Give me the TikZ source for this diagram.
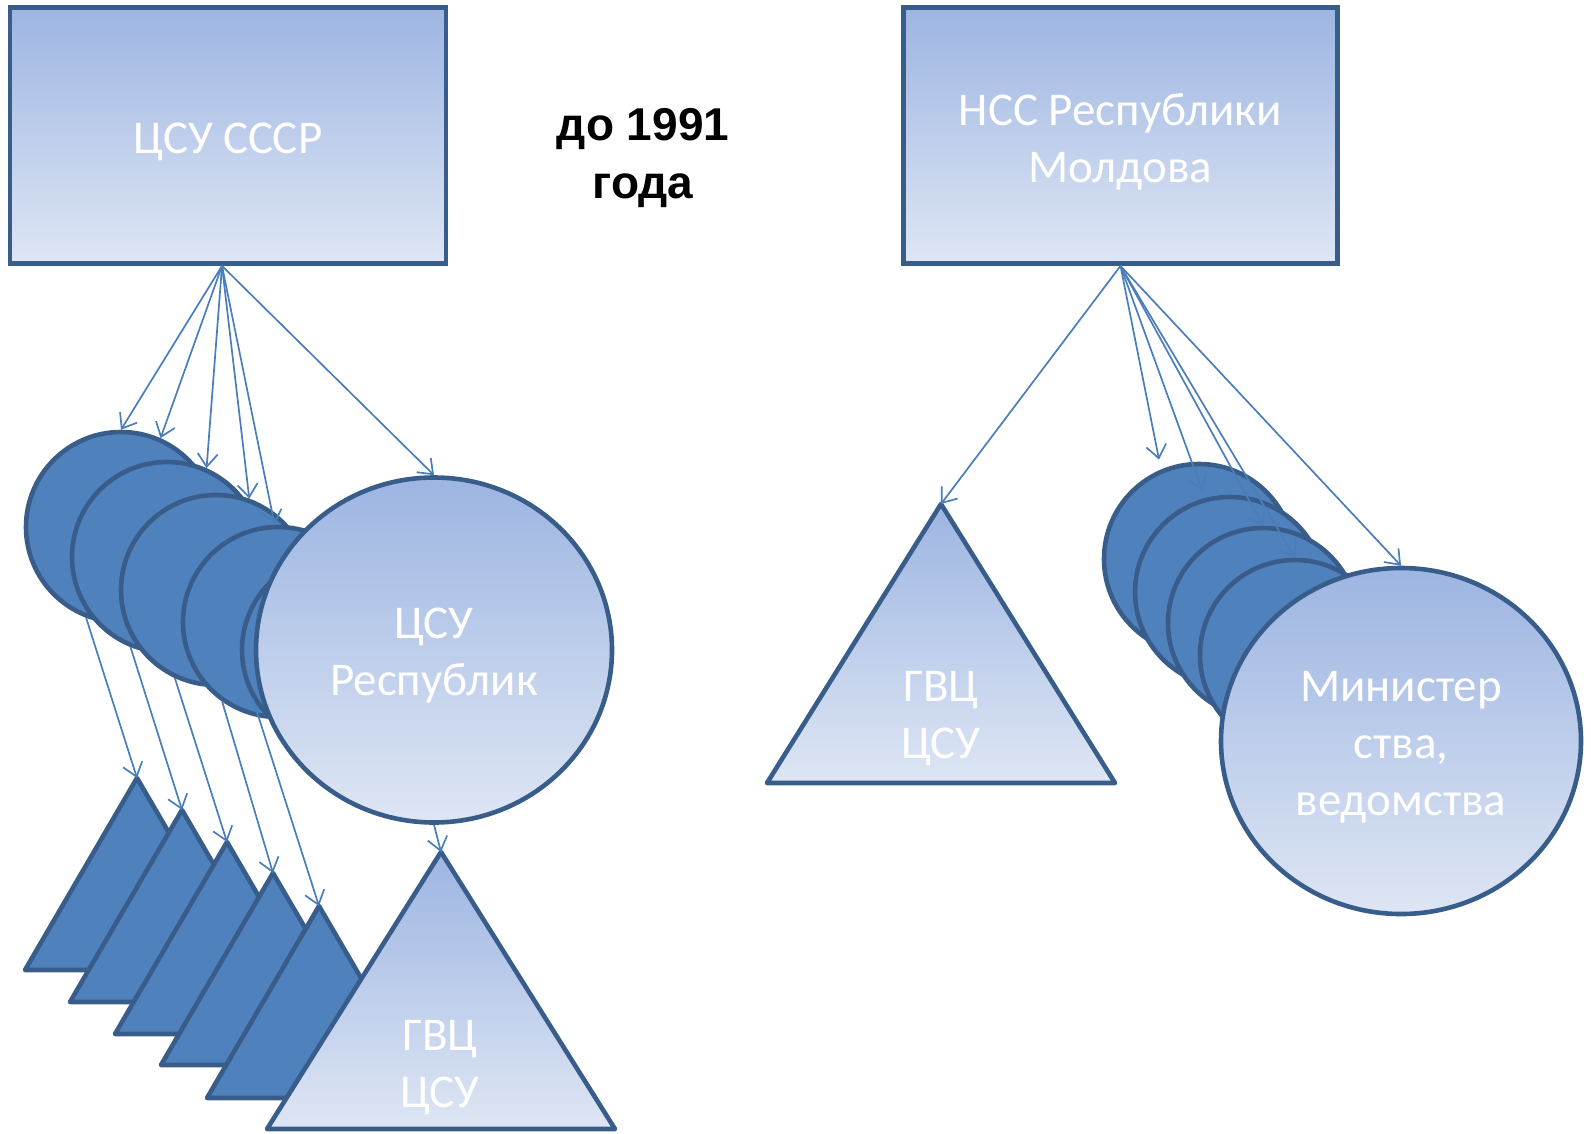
\documentclass[tikz,border=0pt]{standalone}
\usepackage{fontspec}
\setmainfont{Carlito}
\newfontfamily\headfont{Liberation Sans}
\usetikzlibrary{shapes.geometric,arrows.meta}
\definecolor{edgeblue}{HTML}{385D8A}
\definecolor{darkblue}{HTML}{4F81BD}
\definecolor{linkblue}{HTML}{4A7EBB}
\definecolor{gradtop}{HTML}{9DB5E2}
\definecolor{gradbot}{HTML}{DEE6F4}
\tikzset{
    box/.style={rectangle,draw=edgeblue,line width=4.8pt,top color=gradtop,bottom color=gradbot,
        minimum width=436pt,minimum height=256pt},
    disc/.style={circle,draw=edgeblue,line width=4.6pt,fill=darkblue,minimum size=190pt,inner sep=0},
    bigdisc/.style={ellipse,draw=edgeblue,line width=4.6pt,top color=gradtop,bottom color=gradbot,inner sep=0},
    darktri/.style={draw=edgeblue,line width=4.6pt,fill=darkblue,line join=round},
    lighttri/.style={draw=edgeblue,line width=4.6pt,top color=gradtop,bottom color=gradbot,line join=round},
    lbl/.style={text=white,font=\fontsize{47}{57}\selectfont,align=center},
    txt/.style={label={[lbl,yshift=-6pt]center:#1}},
    link/.style={draw=linkblue,line width=1.7pt,-{Straight Barb[length=13pt,width=20pt]}}
}

\begin{document}
\begin{tikzpicture}[x=1pt,y=-1pt]
    \useasboundingbox (0,0) rectangle (1591,1133);

    % before 1991
    \node[box,txt={ЦСУ СССР}] (ussr) at (228,135.5) {};
    \node[font=\headfont\bfseries\fontsize{46}{58}\selectfont,align=center] (year) at (643,158) {до 1991\\года};

    \node[disc] (cA) at (121,527) {};
    \node[disc] (cB) at (167,557) {};
    \node[disc] (cC) at (216,590) {};
    \node[disc] (cD) at (278,622) {};
    \node[disc] (cE) at (337,650) {};
    \node[bigdisc,minimum width=356pt,minimum height=345pt,txt={ЦСУ\\Республик}] (rep) at (434,650) {};

    \coordinate (t1) at (137,778);
    \coordinate (t2) at (182,810);
    \coordinate (t3) at (227,842);
    \coordinate (t4) at (273,873);
    \coordinate (t5) at (319,906);
    \coordinate (t6) at (441,852);
    \draw[darktri] (t1) -- ++(-112,192) -- ++(224,0) -- cycle;
    \draw[darktri] (t2) -- ++(-112,192) -- ++(224,0) -- cycle;
    \draw[darktri] (t3) -- ++(-112,192) -- ++(224,0) -- cycle;
    \draw[darktri] (t4) -- ++(-112,192) -- ++(224,0) -- cycle;
    \draw[darktri] (t5) -- ++(-112,192) -- ++(224,0) -- cycle;
    \draw[lighttri] (t6) -- ++(-174,277) -- ++(348,0) -- cycle;
    \node[lbl] (gvcA) at (440,1068) {ГВЦ\\ЦСУ};

    \draw[link] ([xshift=-6pt]ussr.south) -- (cA.north);
    \draw[link] ([xshift=-6pt]ussr.south) -- (cA.66);
    \draw[link] ([xshift=-6pt]ussr.south) -- (cB.66);
    \draw[link] ([xshift=-6pt]ussr.south) -- (cC.70);
    \draw[link] ([xshift=-6pt]ussr.south) -- (cD.92);
    \draw[link] ([xshift=-6pt]ussr.south) -- (rep.north);
    \draw[link] (cA.249) -- (t1);
    \draw[link] (cB.248) -- (t2);
    \draw[link] (cC.245) -- (t3);
    \draw[link] (cD.235) -- (t4);
    \draw[link] (cE.210) -- (t5);
    \draw[link] (rep.south) -- (t6);

    % Moldova
    \node[box,minimum width=434pt,txt={НСС Республики\\Молдова}] (nss) at (1120.5,135.5) {};

    \node[disc] (r1) at (1199,559) {};
    \node[disc] (r2) at (1230,592) {};
    \node[disc] (r3) at (1263,623) {};
    \node[disc] (r4) at (1295,655) {};
    \node[bigdisc,minimum width=360pt,minimum height=346pt,txt={Министер\\ства,\\ведомства}] (min) at (1401,741) {};

    \coordinate (t7) at (941,504);
    \draw[lighttri] (t7) -- ++(-174,279) -- ++(348,0) -- cycle;
    \node[lbl] (gvcB) at (941,719) {ГВЦ\\ЦСУ};

    \draw[link] (nss.south) -- (t7);
    \draw[link,shorten >=10pt] (nss.south) -- (r1.113);
    \draw[link,shorten >=8pt] (nss.south) -- (r2.105);
    \draw[link] (nss.south) -- (r3.north);
    \draw[link] (nss.south) -- (r4.north);
    \draw[link] (nss.south) -- (min.north);
\end{tikzpicture}
\end{document}
